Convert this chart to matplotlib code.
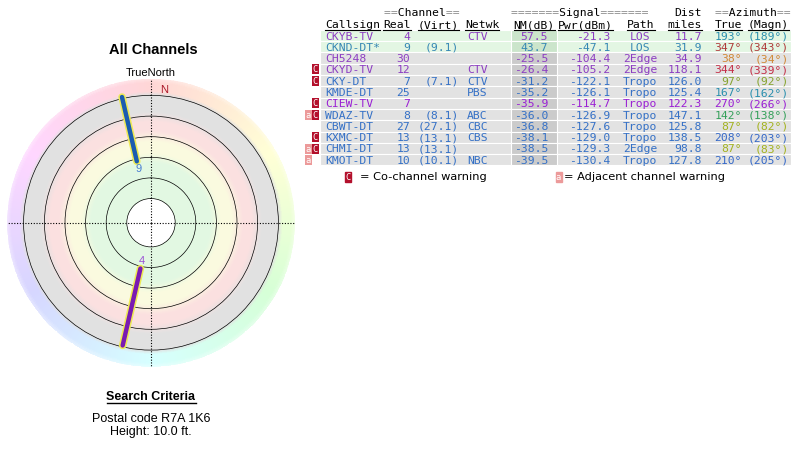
import colorsys
import numpy as np
import matplotlib
matplotlib.use('Agg')
import matplotlib.pyplot as plt
from matplotlib.patches import Rectangle

W, H = 799, 454
MONO = 'DejaVu Sans Mono'
SANS = 'Liberation Sans'

# ---------------- table data ----------------
callsigns = ['CKYB-TV', 'CKND-DT*', 'CH5248', 'CKYD-TV', 'CKY-DT', 'KMDE-DT',
             'CIEW-TV', 'WDAZ-TV', 'CBWT-DT', 'KXMC-DT', 'CHMI-DT', 'KMOT-DT']
real_ch = [4, 9, 30, 12, 7, 25, 7, 8, 27, 13, 13, 10]
virt_ch = ['', '9.1', '', '', '7.1', '', '', '8.1', '27.1', '13.1', '13.1', '10.1']
netwk = ['CTV', '', '', 'CTV', 'CTV', 'PBS', '', 'ABC', 'CBC', 'CBS', '', 'NBC']
nm_db = [57.5, 43.7, -25.5, -26.4, -31.2, -35.2, -35.9, -36.0, -36.8, -38.1, -38.5, -39.5]
pwr_dbm = [-21.3, -47.1, -104.4, -105.2, -122.1, -126.1, -114.7, -126.9, -127.6, -129.0, -129.3, -130.4]
path = ['LOS', 'LOS', '2Edge', '2Edge', 'Tropo', 'Tropo', 'Tropo', 'Tropo', 'Tropo', 'Tropo', '2Edge', 'Tropo']
dist_mi = [11.7, 31.9, 34.9, 118.1, 126.0, 125.4, 122.3, 147.1, 125.8, 138.5, 98.8, 127.8]
az_true = [193, 347, 38, 344, 97, 167, 270, 142, 87, 208, 87, 210]
az_magn = [189, 343, 34, 339, 92, 162, 266, 138, 82, 203, 83, 205]
cochannel = [0, 0, 0, 1, 1, 0, 1, 1, 0, 1, 1, 0]
adjacent = [0, 0, 0, 0, 0, 0, 0, 1, 0, 0, 1, 1]

PURPLE, TEAL, BLUE, VIOLET = '#8c3dc2', '#3587b4', '#3470c6', '#9a1fd4'
row_colors = [PURPLE, TEAL, PURPLE, PURPLE, BLUE, BLUE, VIOLET, BLUE, BLUE, BLUE, BLUE, BLUE]
az_colors = ['#2a8fae', '#b03a3a', '#d08836', '#c42f48', '#86a32e', '#2a8fae',
             '#9a1fd4', '#35a05a', '#a3b21e', '#3468c8', '#a3b21e', '#3468c8']
good_rows = [1, 1, 0, 0, 0, 0, 0, 0, 0, 0, 0, 0]

# stations drawn on the compass
plot_labels = ['4', '9']
plot_az = [193, 347]
plot_r_in = [47, 63]
plot_r_out = [126, 129]
plot_colors = ['#7a1ab2', '#1b5cb0']
label_colors = ['#9a4fd6', '#4a7ed2']

ring_radii = [24.2, 44.8, 65.4, 86.0, 106.6, 127.4]
R_MAX = 144

fig = plt.figure(figsize=(W / 100, H / 100), dpi=100)

# overlay axes in pixel units for the table and captions
ax0 = fig.add_axes([0, 0, 1, 1])
ax0.set_xlim(0, W)
ax0.set_ylim(H, 0)
ax0.axis('off')

#---------------- table ----------------
n = len(callsigns)
row_y = 35.5 + 11.3 * np.arange(n)
bg = ['#e3f6e3' if g else '#e2e2e2' for g in good_rows]
bg_nm = ['#cbe5cb' if g else '#cbcbcb' for g in good_rows]
ax0.barh(row_y, 791 - 320, left=320, height=11.3, color=bg, edgecolor='white', linewidth=0.8)
ax0.barh(row_y, 46, left=511, height=11.3, color=bg_nm, edgecolor='white', linewidth=0.8)

fs = 8.2

def cell(x, y, s, ha, color):
    ax0.text(x, y + 4, s, ha=ha, va='baseline', fontsize=fs, family=MONO, color=color)

for i in range(n):
    y = row_y[i]
    c = row_colors[i]
    cell(325, y, callsigns[i], 'left', c)
    cell(410, y, str(real_ch[i]), 'right', c)
    if virt_ch[i]:
        cell(459, y, '(%s)' % virt_ch[i], 'right', c)
    cell(467, y, netwk[i], 'left', c)
    cell(548, y, '%.1f' % nm_db[i], 'right', c)
    cell(610, y, '%.1f' % pwr_dbm[i], 'right', c)
    cell(640, y, path[i], 'center', c)
    cell(702, y, '%.1f' % dist_mi[i], 'right', c)
    cell(742, y, '%d°' % az_true[i], 'right', az_colors[i])
    cell(789, y, '(%d°)' % az_magn[i], 'right', az_colors[i])

# warning flags
co_y = row_y[np.array(cochannel) == 1]
adj_y = row_y[np.array(adjacent) == 1]
ax0.barh(co_y, 6.5, left=312, height=10, color='#b3102c')
ax0.barh(adj_y, 6.5, left=305, height=10, color='#ec9a9a')
for y in co_y:
    ax0.text(315.2, y + 0.5, 'C', ha='center', va='center', fontsize=6.3, family=MONO, color='white')
for y in adj_y:
    ax0.text(308.2, y + 0.5, 'a', ha='center', va='center', fontsize=6.3, family=MONO, color='white')

# header line 1: grey '=' with black words (monospace, so the two strings line up)
def header1(x, word, pad):
    grey = '=' * pad + ' ' * len(word) + '=' * pad
    blank = ' ' * pad + word + ' ' * pad
    ax0.text(x, 16, grey, ha='center', va='baseline', fontsize=fs, family=MONO, color='#8a8a8a')
    ax0.text(x, 16, blank, ha='center', va='baseline', fontsize=fs, family=MONO, color='black')

header1(422, 'Channel', 2)
header1(580, 'Signal', 7)
header1(752.5, 'Azimuth', 2)
ax0.text(702, 16, 'Dist', ha='right', va='baseline', fontsize=fs, family=MONO, color='black')

headers = [('Callsign', 325, 'left'), ('Real', 410.5, 'right'), ('(Virt)', 459, 'right'),
           ('Netwk', 465, 'left'), ('NM(dB)', 555, 'right'), ('Pwr(dBm)', 613, 'right'),
           ('Path', 641, 'center'), ('miles', 702, 'right'), ('True', 742, 'right'),
           ('(Magn)', 789, 'right')]
hdr_texts = []
for s, x, ha in headers:
    hdr_texts.append(ax0.text(x, 28, s, ha=ha, va='baseline', fontsize=fs, family=MONO, color='black'))

# legend
ax0.add_patch(Rectangle((344.5, 172), 6, 10, color='#b3102c'))
ax0.text(347.5, 177.5, 'C', ha='center', va='center', fontsize=6.3, family=MONO, color='white')
ax0.text(360, 177, '= Co-channel warning', ha='left', va='center', fontsize=8.2, family='DejaVu Sans')
ax0.add_patch(Rectangle((555.5, 172), 6, 10, color='#ec9a9a'))
ax0.text(558.5, 177.5, 'a', ha='center', va='center', fontsize=6.3, family=MONO, color='white')
ax0.text(564, 177, '= Adjacent channel warning', ha='left', va='center', fontsize=8.2, family='DejaVu Sans')

# captions on the left
ax0.text(153, 50, 'All Channels', ha='center', va='center', fontsize=10.5, weight='bold', family=SANS)
ax0.text(151, 73, 'TrueNorth', ha='center', va='center', fontsize=8, family=SANS)
sc = ax0.text(151, 397, 'Search Criteria', ha='center', va='center', fontsize=9, weight='bold', family=SANS)
ax0.text(151, 419, 'Postal code R7A 1K6', ha='center', va='center', fontsize=9, family=SANS)
ax0.text(151, 432, 'Height: 10.0 ft.', ha='center', va='center', fontsize=9, family=SANS)

# underlines
rend = fig.canvas.get_renderer()
for t in hdr_texts:
    bb = t.get_window_extent(rend)
    ax0.plot([bb.x0, bb.x1], [30, 30], color='black', lw=0.8)
bb = sc.get_window_extent(rend)
ax0.plot([bb.x0, bb.x1], [402.5, 402.5], color='black', lw=1.0)

#---------------- compass ----------------
cx, cy = 151, 222.7
ax = fig.add_axes([(cx - R_MAX) / W, 1 - (cy + R_MAX) / H, 2 * R_MAX / W, 2 * R_MAX / H],
                  projection='polar')
ax.set_theta_zero_location('N')
ax.set_theta_direction(-1)

th_edges = np.radians(np.linspace(0, 360, 361))
r_edges = np.linspace(0, R_MAX, 289)
th_c = (th_edges[:-1] + th_edges[1:]) / 2
r_c = (r_edges[:-1] + r_edges[1:]) / 2

def hx(c):
    return np.array([int(c[k:k + 2], 16) / 255 for k in (1, 3, 5)])

green, yellow, pink, grey = hx('#e2f8e2'), hx('#fafadf'), hx('#fbe0e0'), hx('#e1e1e1')
stop_r = [24.2, 60, 70, 81, 92, 101, 111, 128]
stop_c = [green, green, yellow, yellow, pink, pink, grey, grey]
radial = np.stack([np.interp(r_c, stop_r, [c[k] for c in stop_c]) for k in range(3)], axis=-1)
hue = np.array([colorsys.hsv_to_rgb(t / (2 * np.pi), 1, 1) for t in th_c])
hue = 1 - 0.16 * (1 - hue)
w = np.clip((r_c - 127.5) / 4, 0, 1)[:, None, None]
rgb = (1 - w) * radial[:, None, :] + w * hue[None, :, :]
fade = np.clip((r_c - 140) / 6, 0, 1)[:, None, None]
rgb = (1 - 0.5 * fade) * rgb + 0.5 * fade
rgb[r_c < 24.2] = 1.0
T, R = np.meshgrid(th_edges, r_edges)
ax.pcolormesh(T, R, rgb, shading='flat', antialiased=False, linewidth=0, rasterized=True)

ax.set_ylim(0, R_MAX)
ax.set_rgrids(ring_radii, labels=[])
ax.set_thetagrids([0, 90, 180, 270], labels=[])
ax.yaxis.grid(True, color='black', linewidth=0.5)
ax.xaxis.grid(True, color='black', linestyle=(0, (1, 1.5)), linewidth=0.8)
ax.spines['polar'].set_visible(False)
ax.tick_params(length=0)

for lab, az, r0, r1, col, lcol in zip(plot_labels, plot_az, plot_r_in, plot_r_out, plot_colors, label_colors):
    th = np.radians(az)
    ax.plot([th, th], [r0, r1], color='#eeea55', lw=5.4, solid_capstyle='round')
    ax.plot([th, th], [r0, r1], color=col, lw=3.2, solid_capstyle='round')
    ax.text(th, r0 - 8, lab, ha='center', va='center', fontsize=8, family=SANS, color=lcol)

ax.text(np.radians(5.8), 133, 'N', ha='center', va='center', fontsize=8, family=SANS, color='#aa1a2a')

plt.savefig('out.png', dpi=100)
